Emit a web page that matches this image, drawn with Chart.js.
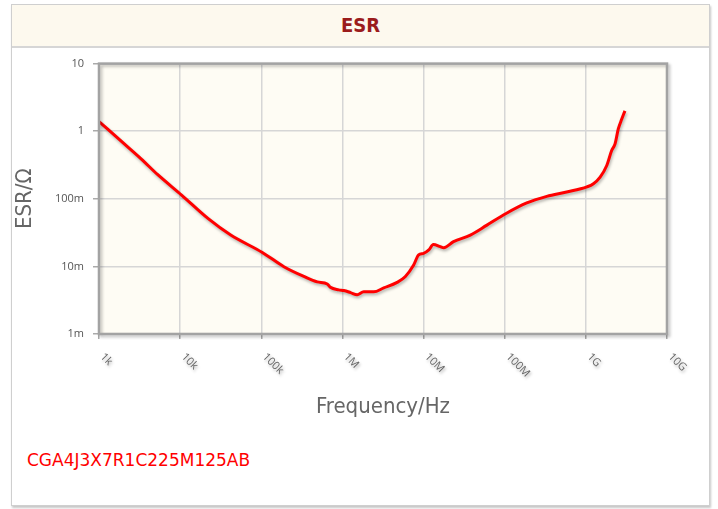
<!DOCTYPE html>
<html>
<head>
<meta charset="utf-8">
<script src="https://cdn.jsdelivr.net/npm/chart.js@4/dist/chart.umd.min.js"></script>
<style>
  body { margin: 0; background: #fff; }
  .panel {
    position: absolute; left: 11px; top: 4px; width: 697px; height: 500px;
    border: 1px solid #cfcfcf; box-shadow: 1px 2px 2px #c8c8c8; background: #fff;
  }
  .head {
    height: 41px; background: #fdf9ee; border-bottom: 2px solid #d6d6d6;
    text-align: center;
    font: bold 20px "DejaVu Sans Condensed", "DejaVu Sans", sans-serif; color: #9b1c1c;
    line-height: 41px;
  }
  .plot { position: absolute; left: 0px; top: 43px; width: 696px; height: 400px; }
  .part {
    position: absolute; left: 15px; top: 445px;
    font: 17px "DejaVu Sans", sans-serif; color: #ff0000;
  }
</style>
</head>
<body>
<div class="panel">
  <div class="head">ESR</div>
  <div class="plot"><canvas id="esrChart"></canvas></div>
  <div class="part">CGA4J3X7R1C225M125AB</div>
</div>
<script>
const freqHz = [1.0e3, 2.05e3, 3.3e3, 5.3e3, 1.05e4, 2.2e4, 4.2e4, 1.03e5, 1.9e5, 3.35e5,
  4.9e5, 6.5e5, 7.1e5, 9.0e5, 1.04e6, 1.26e6, 1.52e6, 1.83e6, 2.43e6, 3.23e6,
  4.72e6, 5.97e6, 7.55e6, 8.7e6, 1.0e7, 1.16e7, 1.32e7, 1.61e7, 1.77e7, 2.34e7,
  3.77e7, 6.04e7, 1.04e8, 1.87e8, 3.3e8, 5.8e8, 1.03e9, 1.24e9, 1.5e9, 1.81e9,
  2.08e9, 2.29e9, 2.51e9, 2.77e9, 3.03e9];
const esrOhm = [1.39, 0.648, 0.39, 0.227, 0.1125, 0.0512, 0.0291, 0.0161, 0.0099, 0.0071,
  0.0059, 0.0055, 0.0049, 0.0045, 0.0044, 0.0041, 0.0038, 0.0042, 0.0042, 0.0048,
  0.0058, 0.0071, 0.0105, 0.0148, 0.0156, 0.0175, 0.0211, 0.0196, 0.0189, 0.0232,
  0.0291, 0.0408, 0.0606, 0.0867, 0.1088, 0.126, 0.150, 0.167, 0.209, 0.311,
  0.517, 0.648, 1.08, 1.51, 2.0];

const xTickValues = [1e3, 1e4, 1e5, 1e6, 1e7, 1e8, 1e9, 1e10];
const xTickLabels = ['1k', '10k', '100k', '1M', '10M', '100M', '1G', '10G'];
const yTickValues = [0.001, 0.01, 0.1, 1, 10];
const yTickLabels = ['1m', '10m', '100m', '1', '10'];

// cream background + framed plot area with a soft shadow
const plotFrame = {
  id: 'plotFrame',
  beforeDraw(chart) {
    const { ctx, chartArea: a } = chart;
    ctx.save();
    ctx.fillStyle = '#fefcf4';
    ctx.fillRect(a.left, a.top, a.width, a.height);
    ctx.restore();
  },
  afterDatasetsDraw(chart) {
    const { ctx, chartArea: a } = chart;
    ctx.save();
    ctx.shadowColor = 'rgba(0,0,0,0.25)';
    ctx.shadowBlur = 3;
    ctx.shadowOffsetX = 2;
    ctx.shadowOffsetY = 2;
    ctx.strokeStyle = '#a3a3a3';
    ctx.lineWidth = 2.5;
    ctx.strokeRect(a.left, a.top, a.width, a.height);
    ctx.restore();

    // slanted frequency labels
    const xs = chart.scales.x;
    ctx.save();
    ctx.fillStyle = '#666';
    ctx.font = '11px "Open Sans", sans-serif';
    ctx.textAlign = 'left';
    ctx.textBaseline = 'middle';
    xTickValues.forEach((v, i) => {
      const px = xs.getPixelForValue(v);
      ctx.save();
      ctx.translate(px + 3, a.bottom + 21);
      ctx.rotate(Math.PI / 4);
      ctx.fillText(xTickLabels[i], 0, 0);
      ctx.restore();
    });
    ctx.restore();
  }
};

const lineShadow = {
  id: 'lineShadow',
  beforeDatasetsDraw(chart) {
    const ctx = chart.ctx;
    ctx.save();
    ctx.shadowColor = 'rgba(0,0,0,0.3)';
    ctx.shadowBlur = 3;
    ctx.shadowOffsetX = 1;
    ctx.shadowOffsetY = 2;
  },
  afterDatasetsDraw(chart) {
    chart.ctx.restore();
  }
};

document.addEventListener('DOMContentLoaded', function() {
  const ctx = document.getElementById('esrChart');

  new Chart(ctx, {
    type: 'scatter',
    data: {
      datasets: [{
        label: 'ESR',
        data: freqHz.map((f, i) => ({ x: f, y: esrOhm[i] })),
        showLine: true,
        borderColor: '#ff0000',
        borderWidth: 3,
        pointRadius: 0,
        cubicInterpolationMode: 'monotone',
        fill: false
      }]
    },
    options: {
      responsive: true,
      maintainAspectRatio: false,
      animation: false,
      layout: { padding: { top: 14, right: 41, bottom: 0, left: 0 } },
      plugins: {
        legend: { display: false },
        title: { display: false },
        tooltip: { enabled: false }
      },
      scales: {
        x: {
          type: 'logarithmic',
          min: 1e3,
          max: 1e10,
          afterBuildTicks: s => { s.ticks = xTickValues.map(v => ({ value: v })); },
          afterFit: s => { s.height = 114; },
          ticks: { display: false },
          grid: { color: '#d6d6d6', lineWidth: 1.5, tickLength: 5, tickColor: '#aaa' },
          border: { display: false },
          title: {
            display: true,
            text: 'Frequency/Hz',
            color: '#666',
            font: { family: '"DejaVu Sans Condensed", "DejaVu Sans", sans-serif', size: 22 },
            padding: { top: 0, bottom: 28 }
          }
        },
        y: {
          type: 'logarithmic',
          min: 0.001,
          max: 10,
          afterBuildTicks: s => { s.ticks = yTickValues.map(v => ({ value: v })); },
          afterFit: s => { s.width = 87; },
          ticks: {
            color: '#555',
            padding: 9,
            font: { family: '"Open Sans", sans-serif', size: 11 },
            callback: (v, i) => yTickLabels[i]
          },
          grid: { color: '#d6d6d6', lineWidth: 1.5, tickLength: 6, tickColor: '#aaa' },
          border: { display: false },
          title: {
            display: true,
            text: 'ESR/Ω',
            color: '#666',
            font: { family: '"DejaVu Sans Condensed", "DejaVu Sans", sans-serif', size: 22 },
            padding: { top: 0, bottom: 0 }
          }
        }
      }
    },
    plugins: [plotFrame, lineShadow]
  });
});
</script>
</body>
</html>
